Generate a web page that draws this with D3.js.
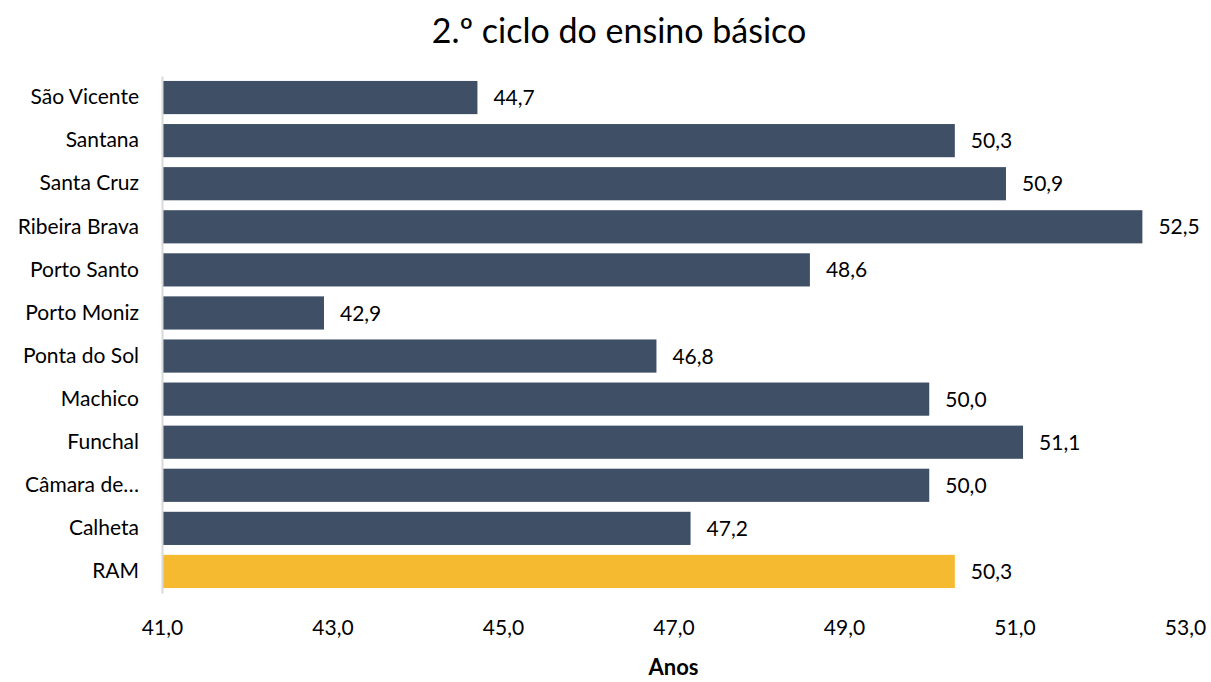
<!DOCTYPE html>
<html>
<head>
<meta charset="utf-8">
<script src="https://cdn.jsdelivr.net/npm/d3@7"></script>
<style>
  body { margin: 0; background: #fff; }
  text { font-family: Lato, "Open Sans", sans-serif; fill: #000; }
</style>
</head>
<body>
<div id="chart"></div>
<script>
var width = 1211;
var height = 682;

// data
var categories = ["São Vicente", "Santana", "Santa Cruz", "Ribeira Brava", "Porto Santo",
    "Porto Moniz", "Ponta do Sol", "Machico", "Funchal", "Câmara de…", "Calheta", "RAM"];
var values = [44.7, 50.3, 50.9, 52.5, 48.6, 42.9, 46.8, 50.0, 51.1, 50.0, 47.2, 50.3];
var xTicks = [41, 43, 45, 47, 49, 51, 53];

var margin = { top: 76, right: 26, bottom: 89, left: 162 };

var svg = d3.select("#chart")
    .append("svg")
    .attr("width", width)
    .attr("height", height);

var x = d3.scaleLinear()
    .domain([41, 53])
    .range([margin.left, width - margin.right]);

var y = d3.scaleBand()
    .domain(categories)
    .range([margin.top, height - margin.bottom])
    .paddingInner(0.23)
    .paddingOuter(0.115);

var fmt = function(d){ return d3.format(".1f")(d).replace(".", ","); };

// title
svg.append("text")
    .attr("x", 619)
    .attr("y", 43)
    .attr("text-anchor", "middle")
    .style("font-size", "34px")
    .text("2.º ciclo do ensino básico");

// bars
svg.append("g")
    .selectAll("rect")
    .data(values)
    .enter()
        .append("rect")
        .attr("x", x(41))
        .attr("y", function(d,i){ return y(categories[i]); })
        .attr("width", function(d){ return x(d) - x(41); })
        .attr("height", y.bandwidth())
        .attr("fill", function(d,i){ return categories[i] === "RAM" ? "#F6BA30" : "#3E4F66"; });

// value labels
svg.append("g")
    .selectAll("text")
    .data(values)
    .enter()
        .append("text")
        .attr("x", function(d){ return x(d) + 16; })
        .attr("y", function(d,i){ return y(categories[i]) + y.bandwidth() / 2; })
        .attr("dy", "0.36em")
        .style("font-size", "21px")
        .text(function(d){ return fmt(d); });

// category axis
var yAxis = svg.append("g")
    .attr("transform", "translate(" + margin.left + ",0)")
    .call(d3.axisLeft(y).tickSize(0).tickPadding(23));
yAxis.select(".domain").attr("stroke", "#D9D9D9").attr("stroke-width", 2);
yAxis.selectAll("text").style("font-size", "21px").attr("fill", "#000");

// value axis (labels only)
var xAxis = svg.append("g")
    .attr("transform", "translate(0," + (height - margin.bottom) + ")")
    .call(d3.axisBottom(x).tickValues(xTicks).tickFormat(fmt).tickSize(0).tickPadding(27));
xAxis.select(".domain").remove();
xAxis.selectAll("text").style("font-size", "21px").attr("fill", "#000");

// axis title
svg.append("text")
    .attr("x", x(47))
    .attr("y", 675)
    .attr("text-anchor", "middle")
    .style("font-size", "22px")
    .style("font-weight", "bold")
    .text("Anos");
</script>
</body>
</html>
